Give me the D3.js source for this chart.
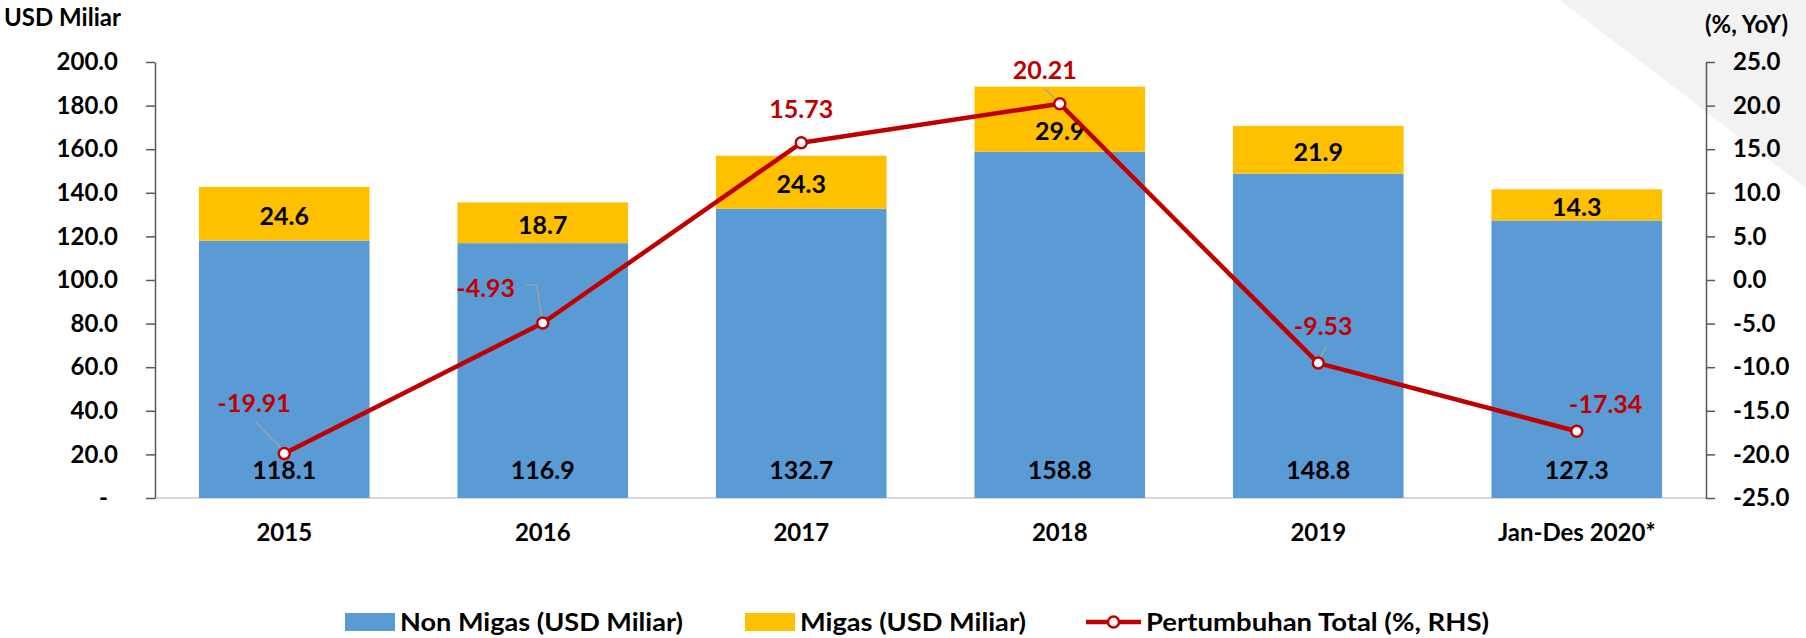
<!DOCTYPE html>
<html>
<head>
<meta charset="utf-8">
<script src="https://cdn.jsdelivr.net/npm/d3@7"></script>
<style>
    html, body { margin: 0; padding: 0; background: #fff; }
    svg { display: block; font-family: Lato, "Open Sans", sans-serif; font-weight: bold; }
</style>
</head>
<body>
<svg id="chart" width="1806" height="638"></svg>
<script>
const categories = ["2015", "2016", "2017", "2018", "2019", "Jan-Des 2020*"];
const nonMigas = [118.1, 116.9, 132.7, 158.8, 148.8, 127.3];
const migas = [24.6, 18.7, 24.3, 29.9, 21.9, 14.3];
const growth = [-19.91, -4.93, 15.73, 20.21, -9.53, -17.34];

const leftTicks = [0, 20, 40, 60, 80, 100, 120, 140, 160, 180, 200];
const rightTicks = [-25, -20, -15, -10, -5, 0, 5, 10, 15, 20, 25];

const seriesNames = ["Non Migas (USD Miliar)", "Migas (USD Miliar)", "Pertumbuhan Total (%, RHS)"];

const BLUE = "#5b9bd5", GOLD = "#ffc000", RED = "#c00000";

// where the red labels sit relative to their point (moved by hand in the original)
const labelShift = [[-30, -51], [-57, -35], [0, -34], [-15, -34], [5, -37], [29, -27]];

const svg = d3.select("#chart");

// grey corner decoration
svg.append("polygon")
    .attr("points", "1560,0 1806,0 1806,188")
    .attr("fill", "#f2f2f2");

const plotL = 155, plotR = 1706, plotT = 62, plotB = 498;

const x = d3.scaleBand()
    .domain(categories)
    .range([plotL, plotR])
    .paddingInner(0.34)
    .paddingOuter(0.17);

const yL = d3.scaleLinear().domain([0, 200]).range([plotB, plotT]);
const yR = d3.scaleLinear().domain([-25, 25]).range([plotB, plotT]);

// baseline
svg.append("line")
    .attr("x1", plotL).attr("x2", plotR)
    .attr("y1", plotB).attr("y2", plotB)
    .attr("stroke", "#d9d9d9").attr("stroke-width", 2);

// bars
const bars = svg.append("g");
categories.forEach((c, i) => {
    bars.append("rect")
        .attr("x", x(c)).attr("width", x.bandwidth())
        .attr("y", yL(nonMigas[i])).attr("height", yL(0) - yL(nonMigas[i]))
        .attr("fill", BLUE);
    bars.append("rect")
        .attr("x", x(c)).attr("width", x.bandwidth())
        .attr("y", yL(nonMigas[i] + migas[i])).attr("height", yL(nonMigas[i]) - yL(nonMigas[i] + migas[i]))
        .attr("fill", GOLD);
});

// left axis
const axisL = d3.axisLeft(yL).tickValues(leftTicks).tickSize(9).tickSizeOuter(0)
    .tickFormat(d => d === 0 ? "-" : d.toFixed(1));
const gL = svg.append("g").attr("transform", "translate(" + plotL + ",0)").call(axisL);
gL.select(".domain").attr("stroke", "#595959").attr("stroke-width", 1.5);
gL.selectAll(".tick line").attr("stroke", "#595959").attr("stroke-width", 1.5);
gL.selectAll(".tick text")
    .attr("x", d => d === 0 ? -47 : -37)
    .attr("fill", "#000")
    .style("font-size", "24px")
    .style("font-family", "Lato, sans-serif")
    .style("font-weight", "bold");

// right axis
const axisR = d3.axisRight(yR).tickValues(rightTicks).tickSize(9).tickSizeOuter(0)
    .tickFormat(d => d.toFixed(1));
const gR = svg.append("g").attr("transform", "translate(" + plotR + ",0)").call(axisR);
gR.select(".domain").attr("stroke", "#595959").attr("stroke-width", 1.5);
gR.selectAll(".tick line").attr("stroke", "#595959").attr("stroke-width", 1.5);
gR.selectAll(".tick text")
    .attr("x", 27)
    .attr("fill", "#000")
    .style("font-size", "24px")
    .style("font-family", "Lato, sans-serif")
    .style("font-weight", "bold");

// x axis labels
const axisX = d3.axisBottom(x).tickSize(0);
const gX = svg.append("g").attr("transform", "translate(0," + plotB + ")").call(axisX);
gX.select(".domain").remove();
gX.selectAll(".tick text")
    .attr("y", 26)
    .attr("fill", "#000")
    .style("font-size", "24px")
    .style("font-family", "Lato, sans-serif")
    .style("font-weight", "bold");

// axis titles
svg.append("text").attr("x", 4).attr("y", 26).text("USD Miliar")
    .style("font-size", "24px");
svg.append("text").attr("x", 1788).attr("y", 33).attr("text-anchor", "end").text("(%, YoY)")
    .style("font-size", "24px");

// bar labels
const cx = c => x(c) + x.bandwidth() / 2;
svg.append("g").selectAll("text").data(categories).enter().append("text")
    .attr("x", cx)
    .attr("y", 479)
    .attr("text-anchor", "middle")
    .style("font-size", "25px")
    .text((c, i) => nonMigas[i].toFixed(1));

svg.append("g").selectAll("text").data(categories).enter().append("text")
    .attr("x", cx)
    .attr("y", (c, i) => (yL(nonMigas[i]) + yL(nonMigas[i] + migas[i])) / 2 + 11 + (i === 3 ? 10 : 0))
    .attr("text-anchor", "middle")
    .style("font-size", "25px")
    .text((c, i) => migas[i].toFixed(1));

// leader lines
const pts = categories.map((c, i) => [cx(c), yR(growth[i])]);
const leaders = svg.append("g").attr("stroke", "#a6a6a6").attr("stroke-width", 1.2).attr("fill", "none");
leaders.append("polyline").attr("points", [[pts[0][0] - 29, pts[0][1] - 32], [pts[0][0] - 3, pts[0][1] - 5]].join(" "));
leaders.append("polyline").attr("points", [[pts[1][0] - 17, pts[1][1] - 38], [pts[1][0] - 6, pts[1][1] - 38], [pts[1][0] - 1, pts[1][1] - 6]].join(" "));
leaders.append("polyline").attr("points", [[pts[3][0] - 15, pts[3][1] - 15], [pts[3][0] - 4, pts[3][1] - 4]].join(" "));
leaders.append("polyline").attr("points", [[pts[4][0] + 8, pts[4][1] - 16], [pts[4][0] + 2, pts[4][1] - 6]].join(" "));

// growth line
const line = d3.line().x(d => d[0]).y(d => d[1]);
svg.append("path")
    .attr("d", line(pts))
    .attr("fill", "none")
    .attr("stroke", RED)
    .attr("stroke-width", 4.5)
    .attr("stroke-linejoin", "round");

svg.append("g").selectAll("circle").data(pts).enter().append("circle")
    .attr("cx", d => d[0]).attr("cy", d => d[1]).attr("r", 5.5)
    .attr("fill", "#fff").attr("stroke", RED).attr("stroke-width", 2.5);

svg.append("g").selectAll("text").data(pts).enter().append("text")
    .attr("x", (d, i) => d[0] + labelShift[i][0])
    .attr("y", (d, i) => d[1] + labelShift[i][1] + 9)
    .attr("text-anchor", "middle")
    .attr("fill", RED)
    .style("font-size", "25px")
    .text((d, i) => growth[i].toFixed(2));

// legend (text is squeezed horizontally in the original, so stretch to its width)
const lg = svg.append("g").style("font-size", "25px");
lg.append("rect").attr("x", 345).attr("y", 613).attr("width", 50).attr("height", 18).attr("fill", BLUE);
lg.append("text").attr("x", 400).attr("y", 631).text(seriesNames[0])
    .attr("textLength", 283).attr("lengthAdjust", "spacingAndGlyphs");
lg.append("rect").attr("x", 745).attr("y", 613).attr("width", 50).attr("height", 18).attr("fill", GOLD);
lg.append("text").attr("x", 800).attr("y", 631).text(seriesNames[1])
    .attr("textLength", 226).attr("lengthAdjust", "spacingAndGlyphs");
lg.append("line").attr("x1", 1086).attr("x2", 1141).attr("y1", 622).attr("y2", 622)
    .attr("stroke", RED).attr("stroke-width", 4.5);
lg.append("circle").attr("cx", 1113.5).attr("cy", 622).attr("r", 5.5)
    .attr("fill", "#fff").attr("stroke", RED).attr("stroke-width", 2.5);
lg.append("text").attr("x", 1146).attr("y", 631).text(seriesNames[2])
    .attr("textLength", 343).attr("lengthAdjust", "spacingAndGlyphs");
</script>
</body>
</html>
